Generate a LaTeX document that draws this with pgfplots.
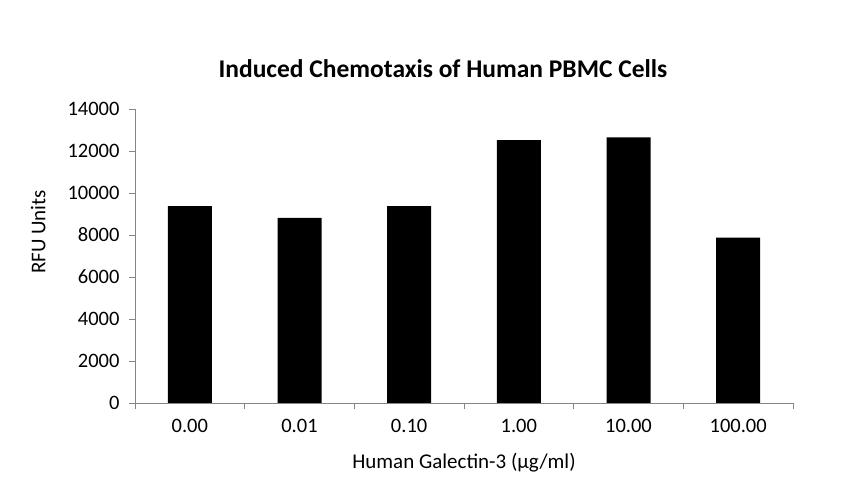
\documentclass[border=0pt]{standalone}
\usepackage{fontspec}
\setmainfont{Carlito}
\usepackage{pgfplots}
\pgfplotsset{compat=1.18}
\definecolor{axisgray}{RGB}{134,134,134}

\begin{document}
\begin{tikzpicture}[x=1pt,y=1pt]
  \useasboundingbox (0,0) rectangle (864,503);
  \begin{axis}[
      at={(135pt,100pt)}, anchor=south west,
      scale only axis,
      width=658pt, height=294pt,
      xmin=-0.5, xmax=5.5,
      ymin=0, ymax=14000,
      ytick={0,2000,...,14000},
      xtick={0,...,5},
      xticklabels={0.00,0.01,0.10,1.00,10.00,100.00},
      minor xtick={-0.5,0.5,...,5.5},
      major x tick style={draw=none},
      tick align=outside,
      xtick pos=bottom, ytick pos=left,
      major tick length=6pt, minor tick length=6pt,
      tick style={axisgray, line width=0.9pt},
      axis x line*=bottom, axis y line*=left,
      axis line style={axisgray, line width=0.9pt, -},
      scaled y ticks=false,
      /pgf/number format/assume math mode=true,
      yticklabel style={/pgf/number format/1000 sep={}, xshift=-6pt},
      xticklabel style={yshift=-7pt},
      ticklabel style={font=\fontsize{20.5}{22}\selectfont},
      title={Induced Chemotaxis of Human PBMC Cells},
      title style={font=\bfseries\fontsize{25.5}{27}\selectfont, at={(axis description cs:0.468,1.117)}, anchor=center},
      xlabel={Human Galectin-3 (µg/ml)},
      xlabel style={font=\fontsize{21}{23}\selectfont, at={(axis description cs:0.5,-0.204)}, anchor=center},
      ylabel={RFU Units},
      ylabel style={font=\fontsize{21}{23}\selectfont, at={(axis description cs:-0.147,0.582)}, anchor=center, rotate=0},
      clip=false,
    ]
    \addplot[ybar, bar width=44pt, fill=black, draw=none]
      coordinates {(0,9380) (1,8810) (2,9380) (3,12520) (4,12650) (5,7870)};
  \end{axis}
\end{tikzpicture}
\end{document}
